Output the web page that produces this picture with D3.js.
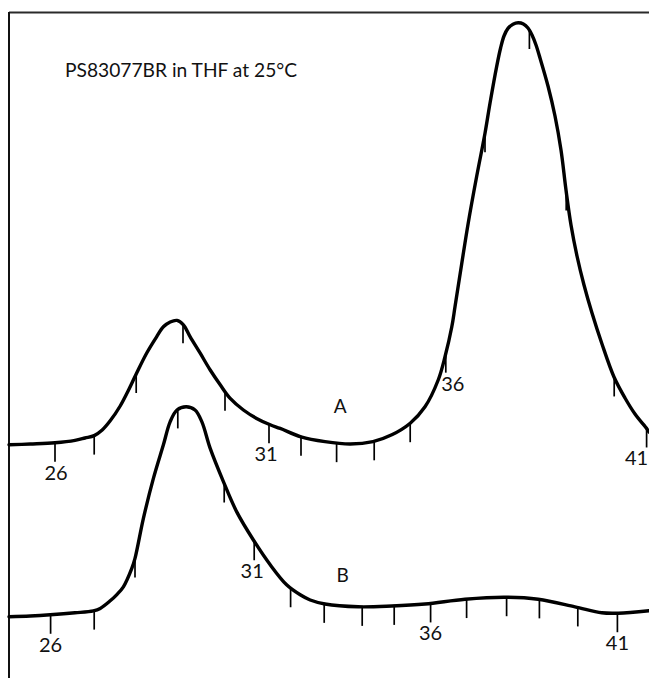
<!DOCTYPE html>
<html>
<head>
<meta charset="utf-8">
<script src="https://cdn.jsdelivr.net/npm/d3@7"></script>
<style>
  html, body { margin: 0; padding: 0; background: #fff; }
  svg { display: block; }
</style>
</head>
<body>
<svg id="chart" width="649" height="678"></svg>
<script>
// GPC recorder traces, read as chart-paper distances in mm:
// x = position along the chart, y = pen height above the paper's lower edge.
const traceA = [
  [0, 58.3], [5.3, 58.5], [11.5, 58.8], [16.5, 59.4], [19.0, 60.0], [21.3, 60.6],
  [23.3, 62.0], [25.3, 64.3], [27.8, 68.0], [29.8, 71.8], [31.8, 76.0], [34.4, 81.2],
  [36.9, 85.3], [38.6, 87.8], [40.3, 89.0], [42.0, 89.4], [43.6, 88.3], [45.3, 85.3],
  [47.8, 81.2], [50.3, 77.0], [52.8, 73.3], [55.3, 69.9], [58.6, 67.0], [61.9, 64.9],
  [65.3, 63.3], [67.8, 62.4], [73.0, 60.3], [79.0, 59.1], [85.3, 58.5], [91.0, 59.1],
  [95.7, 60.8], [100.3, 63.7], [104.0, 67.8], [107.3, 74.5], [109.0, 80.3],
  [110.7, 87.8], [111.5, 92.8], [113.2, 103.7], [114.8, 113.7], [116.9, 125.3],
  [119.0, 136.2], [120.25, 143.7], [121.9, 152.8], [122.9, 157.5], [123.75, 160.5],
  [124.75, 162.4], [126.0, 163.45], [127.3, 163.8], [128.6, 163.5], [129.75, 162.5],
  [130.75, 160.75], [131.75, 158.25], [132.75, 155.0], [134.75, 148.0], [136.5, 140.5],
  [138.0, 132.0], [139.25, 122.0], [140.5, 113.25], [142.0, 105.5], [143.75, 98.25],
  [145.75, 91.25], [148.25, 83.5], [151.25, 75.25], [154.0, 70.0], [156.5, 66.0],
  [159.5, 62.25], [160, 61.5]
];
const traceB = [
  [0, 15.3], [5.3, 15.5], [10.3, 15.8], [16.5, 16.3], [21.1, 16.8], [22.8, 17.4],
  [25.3, 19.3], [26.9, 20.8], [28.6, 22.8], [30.7, 27.4], [31.5, 29.9], [33.6, 39.9],
  [36.1, 49.9], [38.6, 58.3], [40.3, 64.1], [42.0, 67.0], [44.3, 67.8], [46.5, 67.0],
  [48.2, 64.1], [50.3, 57.4], [53.6, 49.1], [56.9, 41.6], [61.1, 34.5], [65.3, 28.3],
  [69.4, 23.3], [72.8, 20.8], [75.3, 19.5], [79.0, 18.5], [87.3, 17.8], [95.7, 18.0],
  [104.0, 18.5], [114.0, 19.7], [124.0, 20.2], [132.3, 19.7], [141.5, 17.8],
  [148.2, 16.3], [152.3, 16.2], [160, 16.8]
];

// Elution counts and where each count mark was struck on the two traces (x, mm)
const counts = [26, 27, 28, 29, 30, 31, 32, 33, 34, 35, 36, 37, 38, 39, 40, 41];
const countMarksA = [11.5, 21.3, 31.8, 43.5, 54.0, 65.0, 73.0, 81.9, 91.3, 100.3,
                     109.2, 119.0, 130.1, 139.3, 151.3, 159.4];
const countMarksB = [10.4, 21.3, 31.5, 42.2, 53.8, 61.3, 70.4, 78.8, 88.3, 96.3,
                     105.4, 114.4, 124.4, 132.6, 142.2, 152.1];
const numberedCounts = [26, 31, 36, 41];

const traceNames = ["A", "B"];
const titleText = "PS83077BR in THF at 25\u00B0C";

// ---- drawing ----
const W = 649, H = 678;
const svg = d3.select("#chart");
const font = "Lato, 'DejaVu Sans', sans-serif";

const x = d3.scaleLinear().domain([0, 160]).range([9, 649]);
const y = d3.scaleLinear().domain([0, 166.5]).range([678, 12]);

// chart frame: top edge and left edge
svg.append("line")
  .attr("x1", 9).attr("x2", W).attr("y1", 12.5).attr("y2", 12.5)
  .attr("stroke", "#2a2a2a").attr("stroke-width", 2);
svg.append("line")
  .attr("x1", 9).attr("x2", 9).attr("y1", 12).attr("y2", H)
  .attr("stroke", "#111").attr("stroke-width", 2);

svg.append("text")
  .attr("x", 65).attr("y", 77)
  .attr("font-family", font).attr("font-size", 19.2)
  .attr("fill", "#111")
  .text(titleText);

const line = d3.line()
  .x(d => x(d[0])).y(d => y(d[1]))
  .curve(d3.curveCatmullRom.alpha(0.5));

// y (px) of a drawn path at a given x (px), by bisecting along its length
function yOnPath(node, px) {
  let lo = 0, hi = node.getTotalLength();
  for (let i = 0; i < 40; i++) {
    const mid = (lo + hi) / 2;
    if (node.getPointAtLength(mid).x < px) lo = mid; else hi = mid;
  }
  return node.getPointAtLength((lo + hi) / 2).y;
}

const tickLen = 19;
const labelNudge = { A: { 26: 1, 31: -3, 36: 7, 41: -10 }, B: { 31: -2 } };

function drawTrace(name, data, marks) {
  const g = svg.append("g");
  const path = g.append("path")
    .datum(data)
    .attr("d", line)
    .attr("fill", "none")
    .attr("stroke", "#000")
    .attr("stroke-width", 3.4)
    .attr("stroke-linejoin", "round")
    .attr("stroke-linecap", "round");
  const node = path.node();

  marks.forEach((m, i) => {
    const px = x(m);
    const py = yOnPath(node, px);
    g.append("line")
      .attr("x1", px).attr("x2", px)
      .attr("y1", py - 1).attr("y2", py + tickLen)
      .attr("stroke", "#000").attr("stroke-width", 1.7);
    const c = counts[i];
    if (numberedCounts.includes(c)) {
      const dx = (labelNudge[name] && labelNudge[name][c]) || 0;
      g.append("text")
        .attr("x", px + dx).attr("y", py + 37)
        .attr("text-anchor", "middle")
        .attr("font-family", font).attr("font-size", 20)
        .attr("fill", "#111")
        .text(c);
    }
  });
}

drawTrace("A", traceA, countMarksA);
drawTrace("B", traceB, countMarksB);

// trace letters, placed just above each trace's tail
const letterPos = { A: [82.8, 66.3], B: [83.4, 24.1] };
traceNames.forEach(n => {
  svg.append("text")
    .attr("x", x(letterPos[n][0])).attr("y", y(letterPos[n][1]))
    .attr("text-anchor", "middle")
    .attr("font-family", font).attr("font-size", 19)
    .attr("fill", "#111")
    .text(n);
});
</script>
</body>
</html>
